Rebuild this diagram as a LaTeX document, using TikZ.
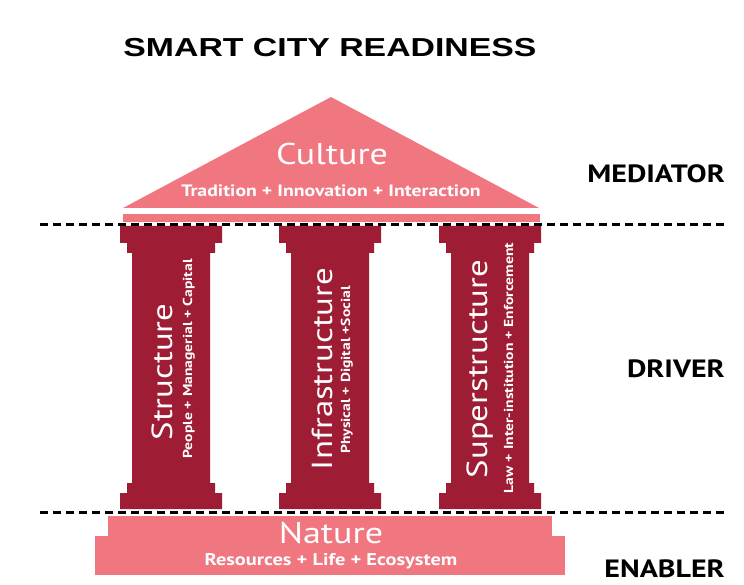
\documentclass[tikz,border=0pt]{standalone}
\usepackage{fontspec}
\setmainfont{PT Sans}[FakeStretch=1.2]
\newfontfamily\headfont{Liberation Sans}[FakeStretch=1.3]
\usepackage{tikz}

\definecolor{roofpink}{RGB}{240,118,128}
\definecolor{pillarred}{RGB}{158,28,52}

\begin{document}
\begin{tikzpicture}[x=1pt, y=-1pt]
        \tikzset{
           bigtext/.style={
                        inner sep=0pt,
                        anchor=base,
                        text=white,
                        font=\fontsize{30}{30}\selectfont
                       },
           subtext/.style={
                        inner sep=0pt,
                        anchor=base,
                        text=white,
                        font=\bfseries\fontsize{16.5}{16.5}\selectfont
                       },
           pillartext/.style={
                        inner sep=0pt,
                        anchor=base,
                        text=white,
                        rotate=90,
                        font=\fontsize{29}{29}\selectfont
                       },
           pillarsub/.style={
                        inner sep=0pt,
                        anchor=base,
                        text=white,
                        rotate=90,
                        font=\bfseries\fontsize{13}{13}\selectfont
                       },
           level/.style={
                        inner sep=0pt,
                        anchor=base east,
                        font=\bfseries\fontsize{25}{25}\selectfont
                       },
           divider/.style={
                        line width=3pt,
                        dash pattern=on 8pt off 5pt
                       },
                 };
        \useasboundingbox (0,0) rectangle (744,585);
        %----------------
        % roof
        \fill[roofpink] (123,208) -- (331,97) -- (539,208) -- cycle;
        \fill[roofpink] (123,214) rectangle (540,222);
        % pillars
        \foreach \c in {171,330,490}{
          \fill[pillarred] (\c-51,226) -- (\c+51,226) -- (\c+51,243) -- (\c+44,243)
                -- (\c+44,253) -- (\c+39,253) -- (\c+39,483) -- (\c+44,483)
                -- (\c+44,493) -- (\c+51,493) -- (\c+51,509) -- (\c-51,509)
                -- (\c-51,493) -- (\c-44,493) -- (\c-44,483) -- (\c-39,483)
                -- (\c-39,253) -- (\c-44,253) -- (\c-44,243) -- (\c-51,243) -- cycle;
        }
        % base
        \fill[roofpink] (108,516) rectangle (552,537);
        \fill[roofpink] (95,536) rectangle (565,575);
        %----------------
        \node[inner sep=0pt, anchor=base, font=\headfont\bfseries\fontsize{26}{26}\selectfont] (title) at (330,57) {SMART CITY READINESS};
        \node[bigtext] (culture) at (332,165) {Culture};
        \node[subtext] (cultureSub) at (331,197) {Tradition + Innovation + Interaction};
        \node[pillartext] (structure) at (172,372) {Structure};
        \node[pillarsub] (structureSub) at (192,359) {People + Managerial + Capital};
        \node[pillartext] (infra) at (332,369) {Infrastructure};
        \node[pillarsub] (infraSub) at (350,370) {Physical + Digital +Social};
        \node[pillartext] (superstr) at (487,369) {Superstructure};
        \node[pillarsub] (superstrSub) at (513,368) {Law + Inter-institution + Enforcement};
        \node[bigtext] (nature) at (331,543) {Nature};
        \node[subtext, font=\bfseries\fontsize{17}{17}\selectfont] (natureSub) at (331,565) {Resources + Life + Ecosystem};
        %----------------
        \node[level] (mediator) at (725,183) {MEDIATOR};
        \node[level] (driver) at (725,377) {DRIVER};
        \node[level] (enabler) at (725,577) {ENABLER};
        %----------------
        \coordinate (topL) at (40,225);
        \coordinate (topR) at (725,225);
        \coordinate (botL) at (40,512);
        \coordinate (botR) at (725,512);
        \draw[divider] (topL) -- (topR);
        \draw[divider] (botL) -- (botR);
    \end{tikzpicture}
\end{document}
